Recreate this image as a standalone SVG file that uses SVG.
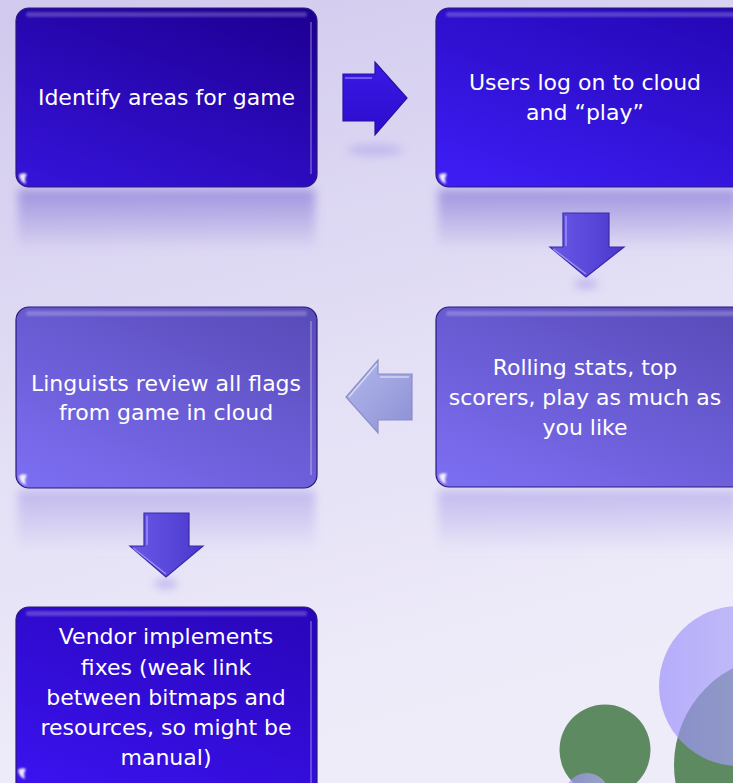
<svg xmlns="http://www.w3.org/2000/svg" width="733" height="783" viewBox="0 0 733 783">
  <defs>
    <linearGradient id="bg" x1="0" y1="0" x2="0.25" y2="1">
      <stop offset="0" stop-color="#d1c9ee"/>
      <stop offset="0.55" stop-color="#e3dff5"/>
      <stop offset="1" stop-color="#efecfa"/>
    </linearGradient>
    <linearGradient id="gDark" x1="0.8" y1="0" x2="0.2" y2="1">
      <stop offset="0" stop-color="#1f0096"/>
      <stop offset="1" stop-color="#3412d6"/>
    </linearGradient>
    <linearGradient id="gBright" x1="0.8" y1="0" x2="0.2" y2="1">
      <stop offset="0" stop-color="#2608b8"/>
      <stop offset="1" stop-color="#3c1cf2"/>
    </linearGradient>
    <linearGradient id="gMid" x1="0.85" y1="0" x2="0.15" y2="1">
      <stop offset="0" stop-color="#5a4cba"/>
      <stop offset="1" stop-color="#7b6df0"/>
    </linearGradient>
    <linearGradient id="gVendor" x1="0.8" y1="0" x2="0.2" y2="1">
      <stop offset="0" stop-color="#2a06bc"/>
      <stop offset="1" stop-color="#3a12ee"/>
    </linearGradient>
    <linearGradient id="reflDark" x1="0" y1="0" x2="0" y2="1">
      <stop offset="0" stop-color="#8c7ed8" stop-opacity="0.75"/>
      <stop offset="1" stop-color="#8c7ed8" stop-opacity="0"/>
    </linearGradient>
    <linearGradient id="reflMid" x1="0" y1="0" x2="0" y2="1">
      <stop offset="0" stop-color="#a89ee8" stop-opacity="0.6"/>
      <stop offset="1" stop-color="#a89ee8" stop-opacity="0"/>
    </linearGradient>
    <linearGradient id="aRight" x1="0" y1="0" x2="0" y2="1">
      <stop offset="0" stop-color="#3a1ae6"/>
      <stop offset="1" stop-color="#2c0ccc"/>
    </linearGradient>
    <linearGradient id="aDown" x1="0" y1="0" x2="1" y2="0">
      <stop offset="0" stop-color="#6a5ae8"/>
      <stop offset="1" stop-color="#4a38cc"/>
    </linearGradient>
    <linearGradient id="aLeft" x1="0" y1="0" x2="1" y2="1">
      <stop offset="0" stop-color="#b4b8ec"/>
      <stop offset="1" stop-color="#8c90d4"/>
    </linearGradient>
    <linearGradient id="lav" x1="0" y1="0" x2="1" y2="0">
      <stop offset="0" stop-color="#9c90fc"/>
      <stop offset="1" stop-color="#b6b2f0"/>
    </linearGradient>
    <filter id="blur6" x="-20%" y="-50%" width="140%" height="200%">
      <feGaussianBlur stdDeviation="5"/>
    </filter>
    <filter id="blur1" x="-10%" y="-100%" width="120%" height="300%">
      <feGaussianBlur stdDeviation="1"/>
    </filter>
    <filter id="blur4" x="-100%" y="-100%" width="300%" height="300%">
      <feGaussianBlur stdDeviation="4"/>
    </filter>
  </defs>
  <style>
    .box { stroke: #2a1a78; stroke-width: 1.2; }
    .gloss { fill: #ffffff; opacity: 0.22; filter: url(#blur1); }
    .edge { fill: none; stroke: #ffffff; stroke-opacity: 0.25; stroke-width: 2; }
    .spot { fill: #ffffff; opacity: 0.9; filter: url(#blur1); }
    .label { font-family: "DejaVu Sans", "Liberation Sans", sans-serif; font-size: 22px; fill: #ffffff; text-anchor: middle; }
    .arrow { stroke-width: 1.2; stroke-linejoin: miter; }
  </style>

  <rect x="0" y="0" width="733" height="783" fill="url(#bg)"/>

  <!-- reflections -->
  <g id="reflections">
    <rect x="18" y="189" width="297" height="62" fill="url(#reflDark)" filter="url(#blur6)"/>
    <rect x="438" y="189" width="300" height="62" fill="url(#reflDark)" filter="url(#blur6)"/>
    <rect x="18" y="490" width="297" height="62" fill="url(#reflMid)" filter="url(#blur6)"/>
    <rect x="438" y="490" width="300" height="62" fill="url(#reflMid)" filter="url(#blur6)"/>
    <ellipse cx="375" cy="150" rx="28" ry="6" fill="#b0a8ec" opacity="0.6" filter="url(#blur4)"/>
    <ellipse cx="586" cy="284" rx="12" ry="5" fill="#a89eea" opacity="0.6" filter="url(#blur4)"/>
    <ellipse cx="166" cy="584" rx="12" ry="5" fill="#a89eea" opacity="0.6" filter="url(#blur4)"/>
  </g>

  <!-- decorative circles -->
  <g id="circles">
    <circle cx="605" cy="750" r="45.5" fill="#5e8a62"/>
    <circle cx="783" cy="765" r="109" fill="#5e8a62"/>
    <circle cx="739" cy="686" r="80" fill="url(#lav)" opacity="0.68"/>
    <circle cx="587" cy="795" r="22" fill="url(#lav)" opacity="0.68"/>
  </g>

  <g id="node-identify">
    <rect class="box" x="16" y="8" width="301" height="179" rx="13" fill="url(#gDark)"/>
    <rect class="gloss" x="26" y="12" width="281" height="5" rx="2.5"/>
    <path class="edge" d="M311 22 V174"/>
    <path class="spot" d="M19 175 Q20 182 26 184 Q24 178 27 174 Q22 172 19 175 Z"/>
    <text class="label" x="166.5" y="105">Identify areas for game</text>
  </g>

  <g id="node-users">
    <rect class="box" x="436" y="8" width="310" height="179" rx="13" fill="url(#gBright)"/>
    <rect class="gloss" x="446" y="12" width="290" height="5" rx="2.5"/>
    <path class="spot" d="M439 175 Q440 182 446 184 Q444 178 447 174 Q442 172 439 175 Z"/>
    <text class="label" x="585" y="90">Users log on to cloud</text>
    <text class="label" x="585" y="120">and “play”</text>
  </g>

  <g id="node-rolling">
    <rect class="box" x="436" y="307" width="310" height="180" rx="13" fill="url(#gMid)"/>
    <rect class="gloss" x="446" y="311" width="290" height="5" rx="2.5"/>
    <path class="spot" d="M439 475 Q440 482 446 484 Q444 478 447 474 Q442 472 439 475 Z"/>
    <text class="label" x="585" y="375">Rolling stats, top</text>
    <text class="label" x="585" y="405">scorers, play as much as</text>
    <text class="label" x="585" y="435">you like</text>
  </g>

  <g id="node-linguists">
    <rect class="box" x="16" y="307" width="301" height="181" rx="13" fill="url(#gMid)"/>
    <rect class="gloss" x="26" y="311" width="281" height="5" rx="2.5"/>
    <path class="edge" d="M311 321 V475"/>
    <path class="spot" d="M19 476 Q20 483 26 485 Q24 479 27 475 Q22 473 19 476 Z"/>
    <text class="label" x="166" y="391">Linguists review all flags</text>
    <text class="label" x="166" y="420">from game in cloud</text>
  </g>

  <g id="node-vendor">
    <rect class="box" x="16" y="607" width="301" height="190" rx="13" fill="url(#gVendor)"/>
    <rect class="gloss" x="26" y="611" width="281" height="5" rx="2.5"/>
    <path class="edge" d="M311 621 V790"/>
    <path class="spot" d="M18 770 Q19 777 25 779 Q23 773 26 769 Q21 767 18 770 Z"/>
    <text class="label" x="166" y="644">Vendor implements</text>
    <text class="label" x="166" y="675">fixes (weak link</text>
    <text class="label" x="166" y="705">between bitmaps and</text>
    <text class="label" x="166" y="735">resources, so might be</text>
    <text class="label" x="166" y="765">manual)</text>
  </g>

  <g id="connectors">
    <polygon class="arrow" points="343,74 375,74 375,62 407,98 375,135 375,121 343,121" fill="url(#aRight)" stroke="#2a10a0"/>
    <path d="M345 78 H372" stroke="#8a78ff" stroke-width="2" opacity="0.7"/>
    <polygon class="arrow" points="563,213 609,213 609,247 624,247 586,277 550,247 563,247" fill="url(#aDown)" stroke="#3a2aa8"/>
    <path d="M566 216 V246 M553 249 L586 274" stroke="#b0a8ff" stroke-width="1.5" fill="none" opacity="0.7"/>
    <polygon class="arrow" points="412,374 412,420 378,420 378,433 346,397 378,360 378,374" fill="url(#aLeft)" stroke="#8a8ec8"/>
    <path d="M380 377 H409 M349 397 L377 364" stroke="#e0e2fa" stroke-width="1.5" fill="none" opacity="0.8"/>
    <polygon class="arrow" points="144,513 189,513 189,546 203,546 166,577 130,546 144,546" fill="url(#aDown)" stroke="#3a2aa8"/>
    <path d="M147 516 V545 M133 548 L166 574" stroke="#b0a8ff" stroke-width="1.5" fill="none" opacity="0.7"/>
  </g>
</svg>
